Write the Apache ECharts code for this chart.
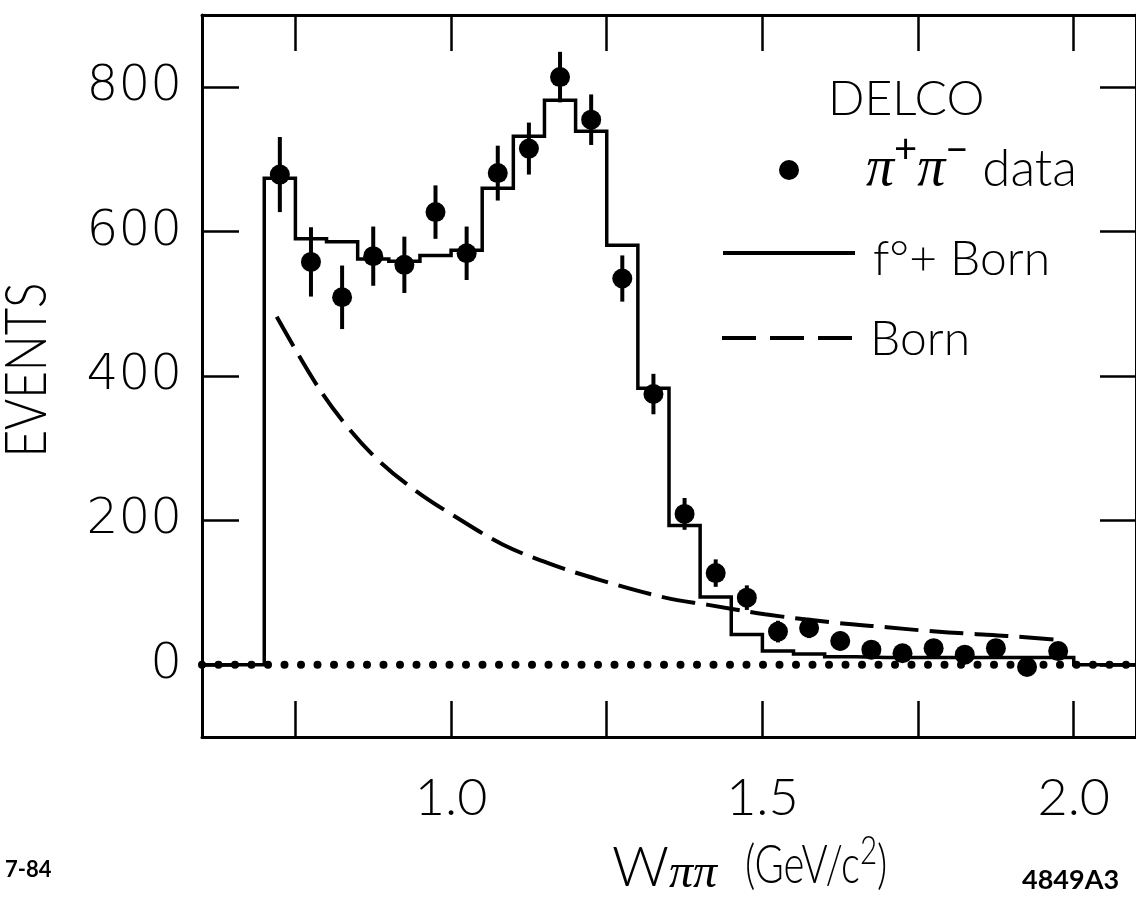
<!DOCTYPE html>
<html>
<head>
<meta charset="utf-8">
<script src="https://cdn.jsdelivr.net/npm/echarts@6/dist/echarts.min.js"></script>
<style>
  html, body { margin: 0; padding: 0; background: #fff; }
  #chart { width: 1136px; height: 905px; }
</style>
</head>
<body>
<div id="chart"></div>
<script>
// W_pipi bins (GeV/c^2), 50 MeV wide
const binCenters = [0.725, 0.775, 0.825, 0.875, 0.925, 0.975, 1.025, 1.075, 1.125, 1.175,
  1.225, 1.275, 1.325, 1.375, 1.425, 1.475, 1.525, 1.575, 1.625, 1.675,
  1.725, 1.775, 1.825, 1.875, 1.925, 1.975];
const binWidth = 0.05;

// f0 + Born prediction (histogram)
const fitValues = [674, 590, 586, 562, 559, 567, 574, 660, 732, 782,
  739, 581, 383, 193, 94, 42, 19, 15, 11, 10,
  10, 10, 10, 10, 10, 10];

// pi+ pi- data with errors
const dataValues = [679, 558, 509, 566, 554, 627, 570, 681, 715, 814,
  755, 535, 375, 209, 127, 93, 46, 51, 33, 21,
  16, 23, 14, 23, -3, 19];
const dataErrors = [52, 48, 44, 41, 39, 37, 37, 38, 36, 35,
  35, 32, 28, 22, 19, 17, 15, 14, 13, 12,
  12, 11, 11, 10, 10, 10];

// Born term alone (dashed)
const bornMass = [0.72, 0.787, 0.836, 0.886, 0.945, 1.009, 1.082, 1.158, 1.237, 1.344,
  1.413, 1.504, 1.61, 1.70, 1.765, 1.833, 1.892, 1.969];
const bornValues = [482, 384, 327, 281, 240, 204, 167, 140, 118, 93,
  83, 70, 59, 52, 47, 43, 40, 35];

const xTicks = [0.75, 1.0, 1.25, 1.5, 1.75, 2.0];
const xLabels = [1.0, 1.5, 2.0];
const yTicks = [0, 200, 400, 600, 800];

const FONT = 'Lato, "DejaVu Sans", sans-serif';
const WIDE_FONT = '"DejaVu Sans", Lato, sans-serif';
const PI_FONT = '"Liberation Serif", "DejaVu Serif", serif';

// step outline of the histogram, flat at zero outside the bins
const histPts = [[0.6, 0], [binCenters[0] - binWidth / 2, 0]];
binCenters.forEach((c, i) => {
  histPts.push([c - binWidth / 2, fitValues[i]]);
  histPts.push([c + binWidth / 2, fitValues[i]]);
});
histPts.push([binCenters[binCenters.length - 1] + binWidth / 2, 0]);
histPts.push([2.1, 0]);

const pointData = binCenters.map((c, i) => [c, dataValues[i], dataErrors[i]]);
const bornData = bornMass.map((m, i) => [m, bornValues[i]]);

const chart = echarts.init(document.getElementById('chart'), null, { renderer: 'canvas' });

const tickStyle = { color: '#000', width: 2.5 };
const lineStyle = { color: '#000', width: 3 };

chart.setOption({
  animation: false,
  backgroundColor: '#fff',
  grid: { left: 202, right: -5, top: 15, bottom: 168, containLabel: false },
  xAxis: [
    {
      type: 'value', min: 0.6, max: 2.1, position: 'bottom',
      axisLine: { show: true, onZero: false, lineStyle: lineStyle },
      axisTick: { show: true, inside: true, length: 36, customValues: xTicks, lineStyle: tickStyle },
      axisLabel: {
        customValues: xLabels, formatter: v => v.toFixed(1),
        fontFamily: FONT, fontWeight: 300, fontSize: 52, color: '#000', margin: 35
      },
      splitLine: { show: false }
    },
    {
      type: 'value', min: 0.6, max: 2.1, position: 'top',
      axisLine: { show: true, onZero: false, lineStyle: lineStyle },
      axisTick: { show: true, inside: true, length: 36, customValues: xTicks, lineStyle: tickStyle },
      axisLabel: { show: false },
      splitLine: { show: false }
    }
  ],
  yAxis: [
    {
      type: 'value', min: -100, max: 900, position: 'left',
      axisLine: { show: true, onZero: false, lineStyle: lineStyle },
      axisTick: { show: true, inside: true, length: 37, customValues: yTicks, lineStyle: tickStyle },
      axisLabel: {
        customValues: yTicks,
        fontFamily: WIDE_FONT, fontWeight: 200, fontSize: 50, color: '#000', margin: 20
      },
      splitLine: { show: false }
    },
    {
      type: 'value', min: -100, max: 900, position: 'right',
      axisLine: { show: true, onZero: false, lineStyle: lineStyle },
      axisTick: { show: true, inside: true, length: 36, customValues: yTicks, lineStyle: tickStyle },
      axisLabel: { show: false },
      splitLine: { show: false }
    }
  ],
  series: [
    {
      // dotted zero line
      type: 'line', data: [[0.6, 0], [2.1, 0]], symbol: 'none', z: 1,
      lineStyle: { color: '#000', width: 8, type: [0, 16.5], cap: 'round' }
    },
    {
      name: 'f° + Born', type: 'line', data: histPts, symbol: 'none', z: 2,
      lineStyle: { color: '#000', width: 3.5, join: 'miter' }
    },
    {
      name: 'Born', type: 'line', data: bornData, symbol: 'none', smooth: 0.35, z: 2,
      lineStyle: { color: '#000', width: 4, type: [34, 11] }
    },
    {
      // error bars
      type: 'custom', data: pointData, z: 3,
      renderItem: (params, api) => {
        const x = api.value(0);
        const y = api.value(1);
        const e = api.value(2);
        const lo = api.coord([x, y - e]);
        const hi = api.coord([x, y + e]);
        return {
          type: 'line',
          shape: { x1: lo[0], y1: lo[1], x2: hi[0], y2: hi[1] },
          style: { stroke: '#000', lineWidth: 4 }
        };
      }
    },
    {
      name: 'π+π- data', type: 'scatter', data: pointData, symbol: 'circle', symbolSize: 20, z: 4,
      itemStyle: { color: '#000', opacity: 1 }
    }
  ],
  graphic: [
    {
      type: 'text', x: 27, y: 370, rotation: Math.PI / 2, scaleX: 0.82,
      style: { text: 'EVENTS', fontFamily: FONT, fontWeight: 300, fontSize: 58, fill: '#000', align: 'center', verticalAlign: 'middle' }
    },
    {
      type: 'text', x: 828, y: 100,
      style: { text: 'DELCO', fontFamily: FONT, fontWeight: 300, fontSize: 48, fill: '#000', align: 'left', verticalAlign: 'middle' }
    },
    { type: 'circle', shape: { cx: 789, cy: 170, r: 10 }, style: { fill: '#000' } },
    {
      type: 'text', x: 866, y: 170,
      style: {
        text: '{pi|π}{sup|+}{pi|π}{sup|−}{t| data}',
        fill: '#000', align: 'left', verticalAlign: 'middle',
        rich: {
          pi: { fontFamily: PI_FONT, fontStyle: 'italic', fontSize: 56, lineHeight: 80 },
          sup: { fontFamily: FONT, fontSize: 40, lineHeight: 22, verticalAlign: 'top' },
          t: { fontFamily: FONT, fontWeight: 300, fontSize: 51, lineHeight: 80 }
        }
      }
    },
    { type: 'line', shape: { x1: 723, y1: 253, x2: 855, y2: 253 }, style: { stroke: '#000', lineWidth: 4 } },
    {
      type: 'text', x: 873, y: 260,
      style: { text: 'f°+ Born', fontFamily: FONT, fontWeight: 300, fontSize: 48, fill: '#000', align: 'left', verticalAlign: 'middle' }
    },
    { type: 'line', shape: { x1: 722, y1: 338, x2: 853, y2: 338 }, style: { stroke: '#000', lineWidth: 4, lineDash: [34, 14] } },
    {
      type: 'text', x: 870, y: 340,
      style: { text: 'Born', fontFamily: FONT, fontWeight: 300, fontSize: 48, fill: '#000', align: 'left', verticalAlign: 'middle' }
    },
    {
      type: 'text', x: 612, y: 868,
      style: {
        text: '{w|W}{sub|ππ}',
        fill: '#000', align: 'left', verticalAlign: 'middle',
        rich: {
          w: { fontFamily: FONT, fontWeight: 300, fontSize: 56, lineHeight: 60 },
          sub: { fontFamily: PI_FONT, fontStyle: 'italic', fontSize: 48, lineHeight: 32, verticalAlign: 'bottom' }
        }
      }
    },
    {
      type: 'text', x: 745, y: 866, scaleX: 0.74,
      style: {
        text: '{u|(GeV/c}{sup|2}{u|)}',
        fill: '#000', align: 'left', verticalAlign: 'middle',
        rich: {
          u: { fontFamily: FONT, fontWeight: 300, fontSize: 54, lineHeight: 70 },
          sup: { fontFamily: FONT, fontWeight: 300, fontSize: 40, lineHeight: 30, verticalAlign: 'top' }
        }
      }
    },
    {
      type: 'text', x: 5, y: 870,
      style: { text: '7-84', fontFamily: FONT, fontWeight: 'bold', fontSize: 22, fill: '#000', align: 'left', verticalAlign: 'middle' }
    },
    {
      type: 'text', x: 1022, y: 880,
      style: { text: '4849A3', fontFamily: FONT, fontWeight: 'bold', fontSize: 27, fill: '#000', align: 'left', verticalAlign: 'middle' }
    }
  ]
});
</script>
</body>
</html>
